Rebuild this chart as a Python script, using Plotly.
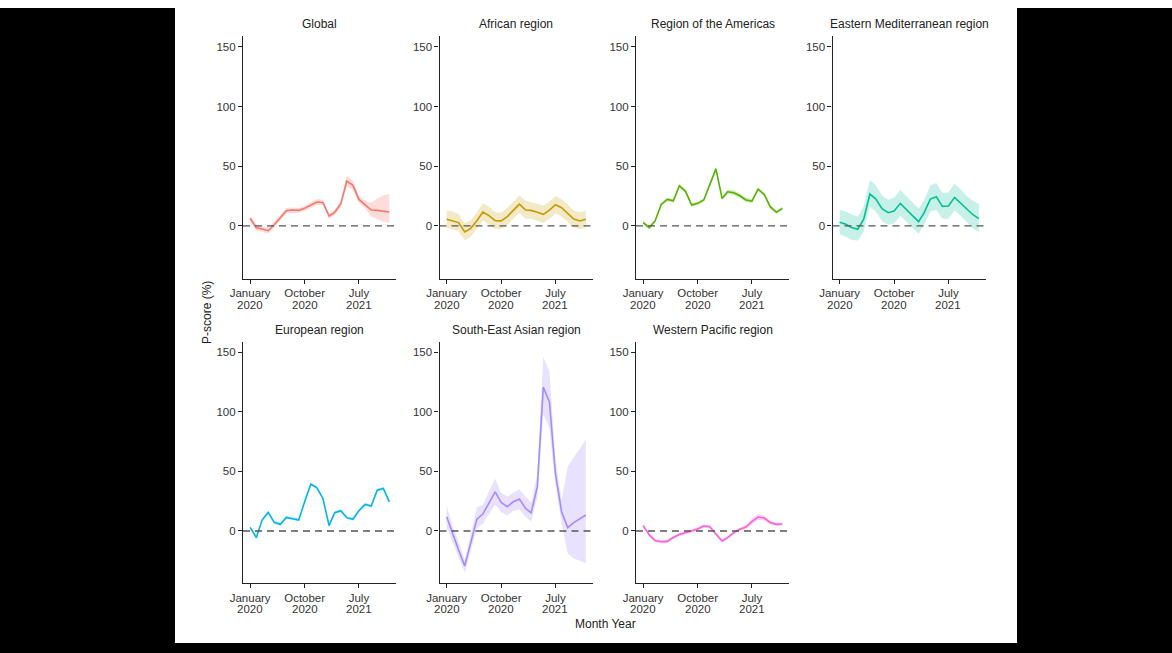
import plotly.graph_objects as go

W, H = 1172, 653

months = ["2020-01-01", "2020-02-01", "2020-03-01", "2020-04-01", "2020-05-01", "2020-06-01",
          "2020-07-01", "2020-08-01", "2020-09-01", "2020-10-01", "2020-11-01", "2020-12-01",
          "2021-01-01", "2021-02-01", "2021-03-01", "2021-04-01", "2021-05-01", "2021-06-01",
          "2021-07-01", "2021-08-01", "2021-09-01", "2021-10-01", "2021-11-01", "2021-12-01"]

regions = ["Global", "African region", "Region of the Americas", "Eastern Mediterranean region",
           "European region", "South-East Asian region", "Western Pacific region"]
colors = ["#F8766D", "#C49A00", "#53B400", "#00C094", "#00B6EB", "#A58AFF", "#FB61D7"]
fills = ["rgba(248,118,109,0.25)", "rgba(196,154,0,0.22)", "rgba(83,180,0,0.25)",
         "rgba(0,192,148,0.22)", "rgba(0,182,235,0.25)", "rgba(165,138,255,0.25)",
         "rgba(251,97,215,0.25)"]

global_mid = [6.4, -1.5, -2.5, -4, 1, 7, 12.8, 13.3, 13, 14.7, 17.5, 20, 19.7, 8.3, 11.4, 18.6, 37.5, 34, 22.2, 18, 13.3, 13, 12.5, 11.7]
global_lo = [4, -4, -5, -6.5, -1.5, 4.5, 10.5, 11, 11, 12.5, 15, 17.5, 17.5, 6, 9, 16, 33, 30.5, 19.5, 14.5, 8, 5.5, 3.5, 2.5]
global_hi = [9, 1, 0, -1.5, 3.5, 9.5, 15, 15.5, 15, 17, 20, 22.5, 22, 10.5, 13.5, 21, 42.5, 38, 25, 21.5, 19.5, 23, 25.5, 27]

african_mid = [5.6, 4.4, 2.8, -5, -2, 4.4, 11.7, 8.6, 4.4, 4.2, 7.8, 13, 18.3, 13.3, 13, 11.4, 9.7, 13.3, 17.8, 15.3, 10.6, 5.8, 4.2, 5.6]
african_hi = [13, 12, 10, 2, 5, 11.5, 19, 16, 11.5, 11, 15, 20, 25.5, 21, 20, 18.5, 17, 20.5, 25, 22.5, 18, 13, 11.5, 13]
african_lo = [-1.5, -3, -4.5, -12, -9, -2.5, 4.5, 1.5, -2.5, -2.5, 0.5, 6, 11, 6, 6, 4.5, 2.5, 6, 10.5, 8, 3.5, -1.5, -3, -1.5]

americas_mid = [2.8, -1.4, 4.2, 18, 22.2, 21, 33.6, 29, 17.5, 18.9, 21.7, 33.9, 47.8, 23, 28.6, 27.8, 25.3, 21.7, 20.8, 30.8, 26.4, 16.1, 11.4, 14.7]
americas_hi = [4.3, 0.1, 5.7, 19.5, 23.7, 22.5, 35.1, 30.5, 19, 20.4, 23.2, 35.4, 49.3, 24.5, 30.6, 29.8, 27.3, 23.5, 22.5, 32.3, 27.9, 17.6, 12.9, 16.2]
americas_lo = [1.3, -2.9, 2.7, 16.5, 20.7, 19.5, 32.1, 27.5, 16, 17.4, 20.2, 32.4, 46.3, 21.5, 26.6, 25.8, 23.3, 19.9, 19.1, 29.3, 24.9, 14.6, 9.9, 13.2]

emed_mid = [3, 1.4, -1.4, -2.8, 5.6, 26.7, 22.5, 14.4, 11.1, 12.5, 18.9, 14.2, 8.6, 3.6, 11.1, 22.5, 24.4, 16.4, 16.7, 23.9, 18.9, 13.6, 9.4, 6.1]
emed_hi = [13.5, 12, 9.5, 8, 16.5, 38.5, 34, 25.5, 22, 23.5, 30, 25, 19.5, 14.5, 22, 34, 36, 27.5, 28, 35.5, 30.5, 25, 21, 18.5]
emed_lo = [-7, -9, -11.5, -12.5, -4.5, 16, 12, 4, 1, 2, 8.5, 4, -1.5, -6.5, 1, 12, 13.5, 6, 6, 13, 8.5, 3, -2, -5]

europe_mid = [3, -5.6, 9.2, 15.6, 7.3, 5.6, 11.4, 10.6, 9.2, 24.5, 39.3, 36.5, 27.3, 4.5, 15.3, 17, 11.2, 9.8, 17, 22.3, 20.9, 34.3, 35.7, 24.5]
europe_hi = [4.2, -4.4, 10.4, 16.8, 8.5, 6.8, 12.6, 11.8, 10.4, 25.7, 40.5, 37.7, 28.5, 5.7, 16.5, 18.2, 12.4, 11, 18.2, 23.5, 22.1, 35.5, 36.9, 25.7]
europe_lo = [1.8, -6.8, 8, 14.4, 6.1, 4.4, 10.2, 9.4, 8, 23.3, 38.1, 35.3, 26.1, 3.3, 14.1, 15.8, 10, 8.6, 15.8, 21.1, 19.7, 33.1, 34.5, 23.3]

seasia_mid = [12, -3.3, -15.9, -29.3, -10.3, 10, 14.2, 23.2, 32.9, 24, 20.4, 24.5, 26.8, 19, 15.3, 37.1, 120.8, 108.2, 48.3, 16.2, 2.8, 7, 10.6, 13.4]
seasia_hi = [21, 4, -9, -24, -3, 20, 22, 33, 44, 32, 29, 32, 35, 29, 24, 48, 146, 134, 60, 26, 54, 62, 69, 77]
seasia_lo = [3, -10, -22, -35, -17, 2, 6, 14, 22, 16, 13, 17, 18, 12, 8, 28, 98, 86, 38, 7, -19, -23, -25, -27]

wpac_mid = [4.5, -3.3, -8, -9, -8.7, -5.4, -3, -1.4, -0.3, 1.7, 4.2, 3.6, -2.5, -8.4, -5.6, -1.4, 1.4, 3.3, 7.8, 11.7, 10.9, 7.2, 5.6, 5.9]
wpac_hi = [6, -1.8, -6.5, -7.5, -7.2, -3.9, -1.5, 0.1, 1.2, 3.2, 5.7, 5.1, -1, -6.9, -4.1, 0.1, 2.9, 4.8, 10.3, 14.2, 12.9, 8.9, 7.1, 7.4]
wpac_lo = [3, -4.8, -9.5, -10.5, -10.2, -6.9, -4.5, -2.9, -1.8, 0.2, 2.7, 2.1, -4, -9.9, -7.1, -2.9, -0.1, 1.8, 5.3, 9.2, 8.9, 5.5, 4.1, 4.4]

mids = [global_mid, african_mid, americas_mid, emed_mid, europe_mid, seasia_mid, wpac_mid]
his = [global_hi, african_hi, americas_hi, emed_hi, europe_hi, seasia_hi, wpac_hi]
los = [global_lo, african_lo, americas_lo, emed_lo, europe_lo, seasia_lo, wpac_lo]

tick_vals = ["2020-01-01", "2020-10-01", "2021-07-01"]
tick_months = ["January", "October", "July"]
tick_years = ["2020", "2020", "2021"]
y_ticks = [0, 50, 100, 150]
x_range = ["2019-11-26", "2022-01-05"]
y_range = [-44, 159]

FONT = "Liberation Sans, Arial, Helvetica, sans-serif"
TICK_FONT = dict(size=11.5, color="#333", family=FONT)

fig = go.Figure()

def px_x(p):
    return p / W

def px_y(p):
    return 1 - p / H

layout = dict(
    width=W, height=H,
    margin=dict(l=0, r=0, t=0, b=0, autoexpand=False),
    paper_bgcolor="white", plot_bgcolor="white",
    showlegend=False,
    font=dict(family=FONT, color="#222"),
)
shapes = []
annotations = []

row_px = [(36, 278.5), (341.6, 583.4)]
for i, name in enumerate(regions):
    k = i + 1
    row, col = divmod(i, 4)
    left = 243 + col * 196.5
    right = left + 153.3
    top, bottom = row_px[row]
    xa = "x" if k == 1 else f"x{k}"
    ya = "y" if k == 1 else f"y{k}"
    layout["xaxis" if k == 1 else f"xaxis{k}"] = dict(
        domain=[px_x(left), px_x(right)], anchor=ya, type="date", range=x_range,
        tickvals=tick_vals, ticktext=tick_months, showgrid=False, zeroline=False,
        showline=True, linecolor="#222", linewidth=1.1, ticks="outside", ticklen=4,
        tickcolor="#222", tickfont=TICK_FONT, automargin=False,
    )
    layout["yaxis" if k == 1 else f"yaxis{k}"] = dict(
        domain=[px_y(bottom), px_y(top)], anchor=xa, range=y_range,
        tickvals=y_ticks, showgrid=False, zeroline=False,
        showline=True, linecolor="#222", linewidth=1.1, ticks="outside", ticklen=4,
        tickcolor="#222", tickfont=TICK_FONT, automargin=False,
    )
    fig.add_trace(go.Scatter(
        x=months + months[::-1], y=his[i] + los[i][::-1], fill="toself",
        fillcolor=fills[i], line=dict(width=0), mode="lines", hoverinfo="skip",
        xaxis=xa, yaxis=ya,
    ))
    fig.add_trace(go.Scatter(
        x=months, y=mids[i], mode="lines", line=dict(color=colors[i], width=1.6),
        xaxis=xa, yaxis=ya, name=name,
    ))
    shapes.append(dict(type="line", xref=f"{xa} domain", x0=0, x1=1, yref=ya, y0=0, y1=0,
                       line=dict(color="#555", width=1.3, dash="7px,5px")))
    annotations.append(dict(text=name, x=px_x((left + right) / 2), y=px_y(top - 12),
                            xref="paper", yref="paper", showarrow=False,
                            font=dict(size=12, color="#222", family=FONT), xanchor="center", yanchor="middle"))
    # second line of the date tick labels (year)
    for tv, yr in zip(tick_vals, tick_years):
        annotations.append(dict(text=yr, x=tv, xref=xa, y=px_y(bottom + 26), yref="paper",
                                showarrow=False, font=TICK_FONT, xanchor="center", yanchor="middle"))

# black frame around the white figure area
shapes.append(dict(type="rect", xref="paper", yref="paper", x0=0, x1=px_x(175), y0=0, y1=px_y(8),
                   fillcolor="black", line=dict(width=0), layer="below"))
shapes.append(dict(type="rect", xref="paper", yref="paper", x0=px_x(1017), x1=1, y0=0, y1=px_y(8),
                   fillcolor="black", line=dict(width=0), layer="below"))
shapes.append(dict(type="rect", xref="paper", yref="paper", x0=0, x1=1, y0=0, y1=px_y(643),
                   fillcolor="black", line=dict(width=0), layer="below"))

annotations.append(dict(text="P-score (%)", x=px_x(198), y=px_y(312), xref="paper", yref="paper",
                        showarrow=False, textangle=-90, font=dict(size=12, color="#222", family=FONT)))
annotations.append(dict(text="Month Year", x=px_x(605), y=px_y(633), xref="paper", yref="paper",
                        showarrow=False, font=dict(size=12, color="#222", family=FONT)))

layout["shapes"] = shapes
layout["annotations"] = annotations
fig.update_layout(**layout)
fig.write_html("out.html", config={"displayModeBar": False},
               post_script="document.body.style.margin='0';document.body.style.overflow='hidden';")
